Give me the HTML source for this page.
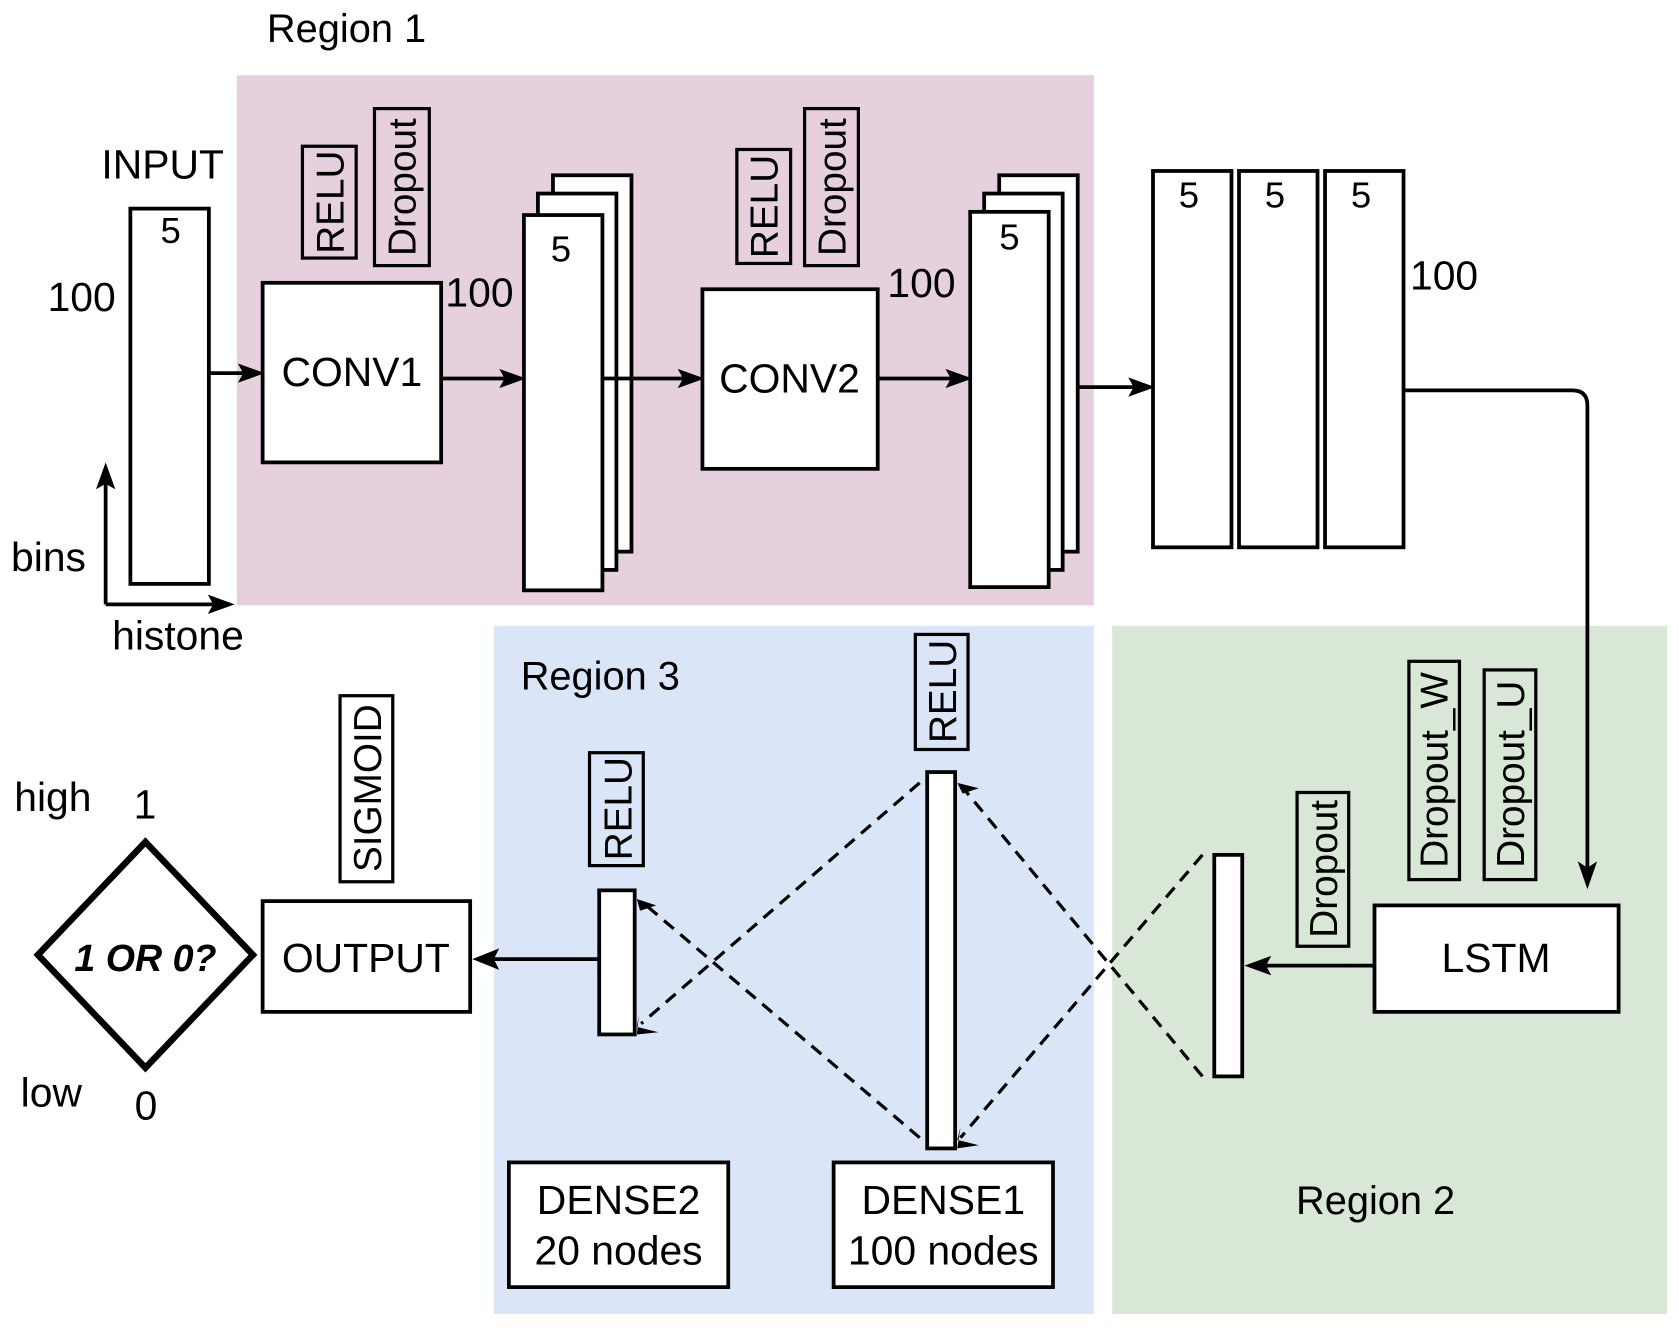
<!DOCTYPE html>
<html><head><meta charset="utf-8"><style>
html,body{margin:0;padding:0;background:#fff}
svg{display:block}
text{font-family:"Liberation Sans",sans-serif;fill:#000}
</style></head><body>
<svg width="1678" height="1328" viewBox="0 0 1560 1235" xmlns="http://www.w3.org/2000/svg">
<!-- regions -->
<rect x="220" y="70" width="797" height="493" fill="#e6d0de"/>
<rect x="459" y="582" width="558" height="640" fill="#dae6f7"/>
<rect x="1034" y="582" width="516" height="640" fill="#d9e7d6"/>
<text x="248" y="39" font-size="37">Region 1</text>
<text x="484" y="641" font-size="37">Region 3</text>
<text x="1205" y="1129" font-size="37">Region 2</text>

<g stroke="#000" stroke-width="3.5" fill="#fff">
<rect x="121" y="194" width="73" height="349"/>
<rect x="244" y="263" width="166" height="167"/>
<rect x="281" y="136" width="50" height="104" fill="none" stroke-width="3"/>
<rect x="348" y="101" width="51" height="146" fill="none" stroke-width="3"/>
<rect x="514" y="163" width="73" height="350"/>
<rect x="500" y="180" width="73" height="350"/>
<rect x="487" y="200" width="73" height="349"/>
<rect x="653" y="269" width="163" height="167"/>
<rect x="685" y="139" width="50" height="106" fill="none" stroke-width="3"/>
<rect x="748" y="101" width="50" height="146" fill="none" stroke-width="3"/>
<rect x="929" y="163" width="73" height="350"/>
<rect x="915" y="180" width="73" height="350"/>
<rect x="902" y="197" width="73" height="349"/>
<rect x="1072" y="159" width="73" height="350"/>
<rect x="1152" y="159" width="73" height="350"/>
<rect x="1232" y="159" width="73" height="350"/>
<rect x="1278" y="842" width="227" height="99"/>
<rect x="1310" y="615" width="47" height="203" fill="none" stroke-width="3"/>
<rect x="1380" y="623" width="48" height="195" fill="none" stroke-width="3"/>
<rect x="1206" y="737" width="48" height="143" fill="none" stroke-width="3"/>
<rect x="1129" y="795" width="26" height="206"/>
<rect x="862" y="718" width="26" height="350"/>
<rect x="851" y="590" width="49" height="107" fill="none" stroke-width="3"/>
<rect x="557" y="828" width="33" height="134"/>
<rect x="548" y="700" width="50" height="105" fill="none" stroke-width="3"/>
<rect x="473" y="1081" width="204" height="116"/>
<rect x="775" y="1081" width="204" height="116"/>
<rect x="244" y="838" width="193" height="103"/>
<rect x="316" y="647" width="49" height="173" fill="none" stroke-width="3"/>
<polygon points="135,783 235,888 135,993 35,888" stroke-width="6"/>
</g>

<g stroke="#000" stroke-width="3.5" fill="none">
<line x1="98" y1="562" x2="98" y2="445"/>
<line x1="98" y1="562" x2="203" y2="562"/>
<line x1="194" y1="347" x2="232" y2="347"/>
<line x1="410" y1="352" x2="475" y2="352"/>
<line x1="560" y1="352" x2="641" y2="352"/>
<line x1="816" y1="352" x2="890" y2="352"/>
<line x1="1002" y1="360" x2="1060" y2="360"/>
<path d="M1305 363 H1462 Q1476 363 1476 377 V813"/>
<line x1="1278" y1="898" x2="1170" y2="898"/>
<line x1="557" y1="892" x2="452" y2="892"/>
</g>
<g stroke="#000" stroke-width="3" fill="none" stroke-dasharray="12,8">
<line x1="1118" y1="795" x2="893" y2="1058"/>
<line x1="1118" y1="1001" x2="893" y2="730"/>
<line x1="855" y1="728" x2="596" y2="952"/>
<line x1="855" y1="1058" x2="596" y2="838"/>
</g>
<g fill="#000">
<polygon points="98,430 89,455 98,450 107,455"/>
<polygon points="218,562 193,553 198,562 193,571"/>
<polygon points="246,347 221,338 226,347 221,356"/>
<polygon points="489,352 464,343 469,352 464,361"/>
<polygon points="655,352 630,343 635,352 630,361"/>
<polygon points="904,352 879,343 884,352 879,361"/>
<polygon points="1074,360 1049,351 1054,360 1049,369"/>
<polygon points="1476,827 1467,801 1476,807 1485,801"/>
<polygon points="1157,898 1182,889 1177,898 1182,907"/>
<polygon points="439,892 464,882 459,892 464,902"/>
<polygon points="890,728 910,733 895,738"/>
<polygon points="890,1060 910,1065 890,1068 893,1048"/>
<polygon points="592,836 610,842 595,847"/>
<polygon points="592,955 612,960 592,962 594,943"/>
</g>

<g font-size="38">
<text x="94" y="166">INPUT</text>
<text x="149" y="226" font-size="34">5</text>
<text x="44" y="289">100</text>
<text x="10" y="531">bins</text>
<text x="104" y="604">histone</text>
<text x="327" y="359" text-anchor="middle">CONV1</text>
<text x="414" y="285">100</text>
<text x="512" y="243" font-size="34">5</text>
<text x="734" y="365" text-anchor="middle">CONV2</text>
<text x="825" y="276">100</text>
<text x="929" y="232" font-size="34">5</text>
<text x="1096" y="193" font-size="34">5</text>
<text x="1176" y="193" font-size="34">5</text>
<text x="1256" y="193" font-size="34">5</text>
<text x="1311" y="269">100</text>
<text x="1391" y="904" text-anchor="middle">LSTM</text>
<text x="340" y="904" text-anchor="middle">OUTPUT</text>
<text x="575" y="1129" text-anchor="middle">DENSE2</text>
<text x="575" y="1176" text-anchor="middle">20 nodes</text>
<text x="877" y="1129" text-anchor="middle">DENSE1</text>
<text x="877" y="1176" text-anchor="middle">100 nodes</text>
<text x="13" y="754">high</text>
<text x="124" y="761">1</text>
<text x="19" y="1029">low</text>
<text x="125" y="1041">0</text>
<text x="135" y="903" text-anchor="middle" font-weight="bold" font-style="italic" font-size="35">1 OR 0?</text>
</g>
<g font-size="36">
<text transform="translate(319,188) rotate(-90)" text-anchor="middle">RELU</text>
<text transform="translate(386,174) rotate(-90)" text-anchor="middle">Dropout</text>
<text transform="translate(723,192) rotate(-90)" text-anchor="middle">RELU</text>
<text transform="translate(786,174) rotate(-90)" text-anchor="middle">Dropout</text>
<text transform="translate(1346,716) rotate(-90)" text-anchor="middle">Dropout_W</text>
<text transform="translate(1417,720) rotate(-90)" text-anchor="middle">Dropout_U</text>
<text transform="translate(1243,808) rotate(-90)" text-anchor="middle">Dropout</text>
<text transform="translate(889,643) rotate(-90)" text-anchor="middle">RELU</text>
<text transform="translate(587,752) rotate(-90)" text-anchor="middle">RELU</text>
<text transform="translate(354,733) rotate(-90)" text-anchor="middle">SIGMOID</text>
</g>
</svg>
</body></html>
